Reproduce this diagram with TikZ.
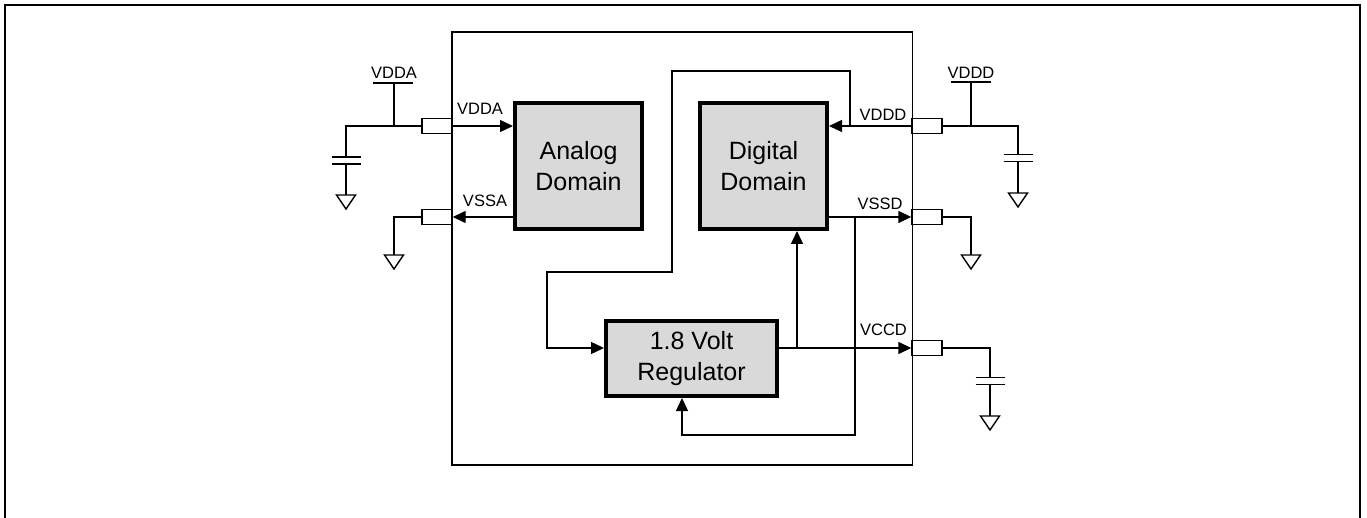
\documentclass[tikz,border=0pt]{standalone}
\usepackage{fontspec}
\setmainfont{Liberation Sans}
\usetikzlibrary{arrows.meta,calc}
\definecolor{boxgray}{HTML}{D9D9D9}
\tikzset{
  wire/.style={line width=1.4pt},
  arr/.style={wire,-{Triangle[length=13pt,width=12pt]}},
  blockbox/.style={draw,line width=4pt,fill=boxgray,inner sep=0pt,align=center,
    font=\fontsize{25}{31}\selectfont},
  pinbox/.style={draw,line width=1.4pt,fill=white,minimum width=30pt,minimum height=15pt,inner sep=0pt},
  lbl/.style={inner sep=0pt,font=\fontsize{16.5}{19}\selectfont},
  gnd/.pic={\draw[wire] (-9.5,0) -- (9.5,0) -- (0,14) -- cycle;},
  cap/.pic={\draw[wire] (-14.5,-3.5) -- (14.5,-3.5) (-14.5,3.5) -- (14.5,3.5);},
}
\begin{document}
\begin{tikzpicture}[x=1pt,y=-1pt]
\useasboundingbox (0,0) rectangle (1367,518);
% outer frame
\draw[line width=2pt] (5,520) -- (5,5) -- (1360,5) -- (1360,520);
% chip
\node[draw,line width=1.4pt,minimum width=460.5pt,minimum height=433pt,inner sep=0pt] (chip) at (682.25,248.5) {};
% blocks
\node[blockbox,minimum width=127pt,minimum height=126pt] (analog) at (578.5,166) {Analog\\Domain};
\node[blockbox,minimum width=127pt,minimum height=126pt] (digital) at (763.5,166) {Digital\\Domain};
\node[blockbox,minimum width=171pt,minimum height=75pt] (reg) at (691.5,358.5) {1.8 Volt\\Regulator};
% pins
\node[pinbox] (pinA1) at (437,126) {};
\node[pinbox] (pinA2) at (437,217) {};
\node[pinbox] (pinD1) at (927,126) {};
\node[pinbox] (pinD2) at (927,217) {};
\node[pinbox] (pinC) at (927,348) {};
% internal connections
\draw[arr] (pinA1.east) -- (analog.west |- pinA1.east);
\draw[arr] (analog.west |- pinA2.east) -- (pinA2.east);
\draw[arr] (pinD1.west) -- (digital.east |- pinD1.west);
\draw[arr] (digital.east |- pinD2.west) -- (pinD2.west);
\draw[arr] (reg.east |- pinC.west) -- (pinC.west);
\coordinate (t1) at (850,126);
\coordinate (tl) at (672,71);
\coordinate (ml) at (547,272);
\draw[arr] (t1) |- (tl) |- (ml) |- (reg.west |- pinC.west);
\coordinate (b1) at (797,348);
\draw[arr] (b1) -- (b1 |- digital.south);
\coordinate (b2) at (855,217);
\coordinate (bl) at (682,435);
\draw[arr] (b2) |- (bl) -- (bl |- reg.south);
% internal labels
\node[lbl] (lVDDA) at (480,108.5) {VDDA};
\node[lbl] (lVSSA) at (485,201) {VSSA};
\node[lbl] (lVDDD) at (883,115) {VDDD};
\node[lbl] (lVSSD) at (880,204) {VSSD};
\node[lbl] (lVCCD) at (883.5,330) {VCCD};
% left external: VDDA
\coordinate (ca) at (346,126);
\coordinate (ta) at (394,126);
\coordinate (sa) at (394,83);
\draw[wire] (pinA1.west) -- (ca) -- ++(0,31);
\draw[wire] (ca) ++(0,38) -- ++(0,31);
\pic at (346,160.5) {cap};
\pic at (346,195) {gnd};
\draw[wire] (ta) -- (sa);
\draw[wire] (373,83) -- (413,83);
\node[lbl] (sVDDA) at (394,73) {VDDA};
% left external: VSSA
\coordinate (ga) at (394,217);
\draw[wire] (pinA2.west) -- (ga) -- ++(0,38);
\pic at (394,255) {gnd};
% right external: VDDD
\coordinate (cd) at (1018,126);
\coordinate (td) at (971,126);
\draw[wire] (pinD1.east) -- (cd) -- ++(0,28);
\draw[wire] (cd) ++(0,36) -- ++(0,31);
\pic at (1018,158) {cap};
\pic at (1018,193) {gnd};
\draw[wire] (td) -- (971,82);
\draw[wire] (951,82) -- (991,82);
\node[lbl] (sVDDD) at (971,73) {VDDD};
% right external: VSSD
\coordinate (gd) at (971,217);
\draw[wire] (pinD2.east) -- (gd) -- ++(0,38);
\pic at (971,255) {gnd};
% right external: VCCD
\coordinate (cc) at (990,348);
\draw[wire] (pinC.east) -- (cc) -- ++(0,29);
\draw[wire] (cc) ++(0,37) -- ++(0,31);
\pic at (990,381) {cap};
\pic at (990,416) {gnd};
\end{tikzpicture}
\end{document}
